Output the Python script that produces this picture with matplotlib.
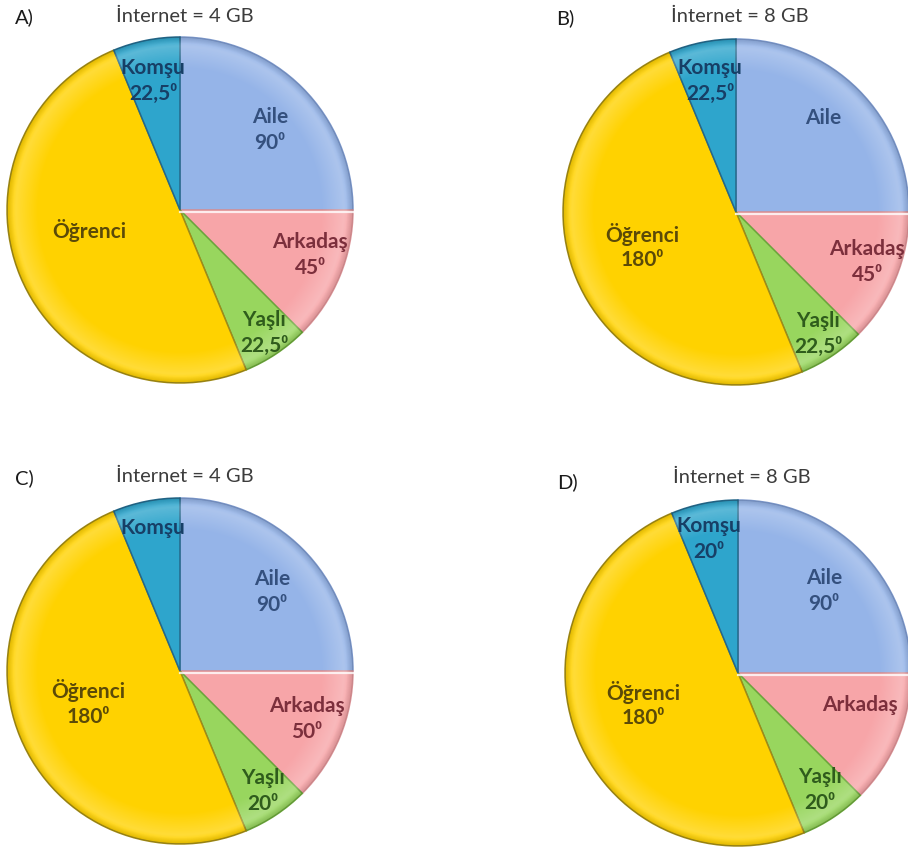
import numpy as np
import matplotlib.pyplot as plt
from matplotlib.patches import Circle

# slice data (same slice geometry is used in all four panels)
slice_names = ["Aile", "Arkadaş", "Yaşlı", "Öğrenci", "Komşu"]
slice_angles = [90, 45, 22.5, 180, 22.5]

panel_letters = ["A)", "B)", "C)", "D)"]
panel_internet = ["4 GB", "8 GB", "4 GB", "8 GB"]
# degree text printed under each slice name (None = no number shown)
panel_degrees = [
    ["90", "45", "22,5", None, "22,5"],
    [None, "45", "22,5", "180", "22,5"],
    ["90", "50", "20", "180", None],
    ["90", None, "20", "180", "20"],
]

# styling
slice_colors = ["#95B4E8", "#F7A5A8", "#98D65E", "#FFD200", "#2EA5CC"]
edge_colors = ["#7C98CC", "#DC9397", "#6AA53A", "#A08A18", "#25688A"]
text_colors = ["#34507E", "#7C2F3C", "#2F5C1C", "#5B4A08", "#173F66"]

# layout in pixels (y measured from the top)
W, H = 908, 851
R = 173
centers = [(180, 210), (736, 212), (180, 671), (738, 673)]
title_pos = [(185, 16), (740, 16), (185, 476), (742, 477)]
letter_pos = [(15, 17), (556, 18), (15, 478), (557, 482)]
label_offsets = [
    [(90, -80), (130, 45), (84, 123), (-91, 20), (-27, -129)],
    [(87, -94), (131, 50), (82, 122), (-94, 35), (-26, -131)],
    [(92, -79), (127, 48), (83, 120), (-92, 33), (-27, -143)],
    [(86, -82), (122, 32), (82, 117), (-95, 32), (-29, -134)],
]
LINE_GAP = 26

FONT = ["Lato", "DejaVu Sans"]


def rim_shading(ax, cx, cy, r):
    # soft bevel: light ring inside the rim and a slightly darker outer edge
    n = 400
    xs = np.linspace(-1, 1, n)
    xx, yy = np.meshgrid(xs, xs)
    rr = np.sqrt(xx ** 2 + yy ** 2)
    light = np.clip((rr - 0.82) / 0.13, 0, 1) * 0.22
    outer = rr > 0.95
    light[outer] = 0.22 * np.clip((1.0 - rr[outer]) / 0.05, 0, 1)
    rgba = np.zeros((n, n, 4))
    rgba[..., :3] = 1.0
    rgba[..., 3] = light
    dark_rgba = np.zeros((n, n, 4))
    dark_rgba[..., 3] = np.clip((rr - 0.965) / 0.035, 0, 1) * 0.12
    clip = Circle((cx, cy), r, facecolor="none", edgecolor="none")
    ax.add_patch(clip)
    ext = (cx - r, cx + r, cy - r, cy + r)
    for img in (rgba, dark_rgba):
        im = ax.imshow(img, extent=ext, interpolation="bilinear", zorder=3)
        im.set_clip_path(clip)


fig = plt.figure(figsize=(W / 100, H / 100), dpi=100)
ax = fig.add_axes([0, 0, 1, 1])

for p in range(4):
    cx, cy = centers[p]
    cy_d = H - cy
    wedges, _ = ax.pie(slice_angles, startangle=90, counterclock=False,
                       colors=slice_colors, center=(cx, cy_d), radius=R,
                       wedgeprops=dict(linewidth=1.1))
    for w, ec in zip(wedges, edge_colors):
        w.set_edgecolor(ec)
        w.set_zorder(2)
    # white highlight along Aile / Arkadaş border
    ax.plot([cx, cx + R], [cy_d - 1.5, cy_d - 1.5], color="white", lw=1.6,
            alpha=0.8, zorder=4)
    rim_shading(ax, cx, cy_d, R)

    # slice labels
    for i, name in enumerate(slice_names):
        dx, dy = label_offsets[p][i]
        deg = panel_degrees[p][i]
        lines = [name] if deg is None else [name, deg + "⁰"]
        top = cy + dy - (len(lines) - 1) * LINE_GAP / 2
        for k, txt in enumerate(lines):
            ax.text(cx + dx, H - (top + k * LINE_GAP), txt, ha="center",
                    va="center", fontsize=15, fontweight="bold",
                    color=text_colors[i], family=FONT, zorder=5)

    tx, ty = title_pos[p]
    ax.text(tx, H - ty, "İnternet = " + panel_internet[p], ha="center",
            va="center", fontsize=14.5, color="#3C3C3C", family=FONT)
    lx, ly = letter_pos[p]
    ax.text(lx, H - ly, panel_letters[p], ha="left", va="center",
            fontsize=14.5, color="#1A1A1A", family=FONT)

ax.set_xlim(0, W)
ax.set_ylim(0, H)
ax.set_aspect("equal")
ax.axis("off")

fig.savefig("out.png", dpi=100, facecolor="white")
